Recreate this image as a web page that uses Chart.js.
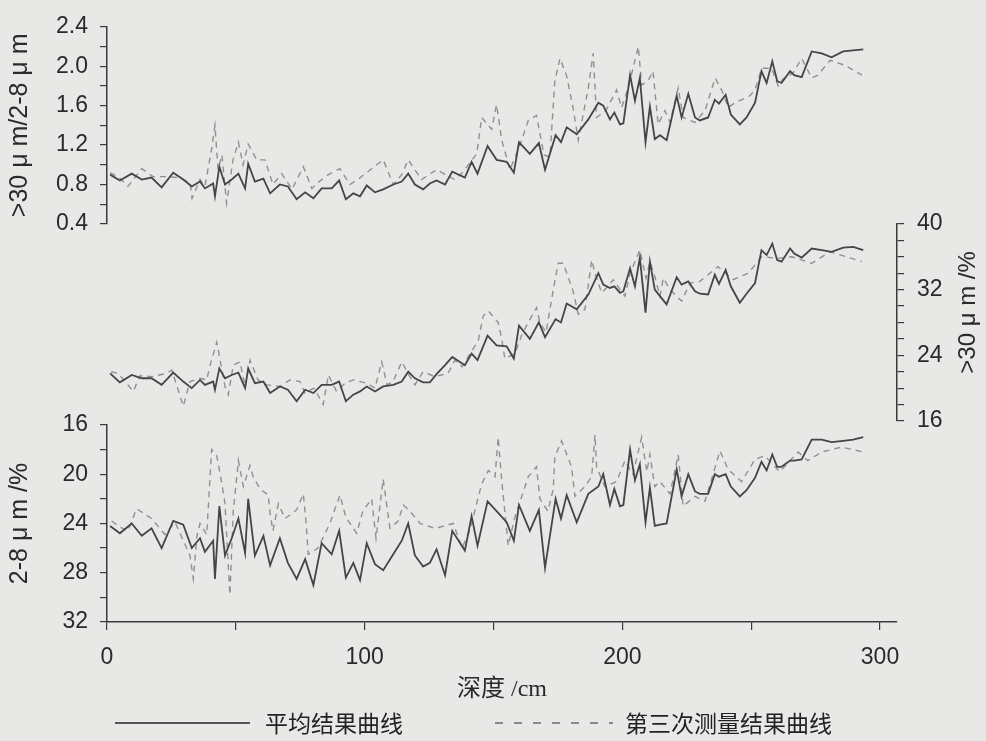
<!DOCTYPE html>
<html>
<head>
<meta charset="utf-8">
<script src="https://cdn.jsdelivr.net/npm/chart.js@4.4.0/dist/chart.umd.min.js"></script>
<style>
  html, body { margin: 0; padding: 0; background: #e8e8e6; }
  .wrap { position: relative; width: 986px; height: 741px; overflow: hidden; }
  canvas { position: absolute; left: 0; top: 0; }
  .legend i { position: absolute; top: 722px; height: 2px; }
  .legend .solid { left: 115px; width: 135px; background: #555; }
  .legend .dash { left: 495px; width: 118px; background: repeating-linear-gradient(90deg, #8a8a8a 0 8px, transparent 8px 19px); }
  .legend span { position: absolute; top: 705px; line-height: 32px; font: 23px 'Noto Sans CJK SC', sans-serif; color: #222; }
</style>
</head>
<body>
<div class="wrap">
  <canvas id="chart" width="986" height="741"></canvas>
  <div class="legend">
    <i class="solid"></i><span style="left:265px">平均结果曲线</span>
    <i class="dash"></i><span style="left:625px">第三次测量结果曲线</span>
  </div>
</div>
<script>
// depth (cm) of the averaged samples, shared by the three solid curves
const depth = [1.2, 5.0, 9.6, 13.5, 17.3, 21.2, 25.7, 29.6, 32.9, 36.1,
  38.0, 41.2, 41.9, 43.6, 45.8, 48.4, 51.0, 53.6, 54.8, 57.4,
  60.7, 63.3, 67.1, 70.2, 73.6, 76.9, 80.1, 83.3, 87.2, 90.1,
  92.7, 95.6, 98.2, 100.8, 104.0, 107.2, 111.1, 114.4, 116.9, 119.5,
  122.7, 125.3, 127.9, 131.2, 134.0, 138.9, 141.5, 143.8, 147.7, 151.2,
  155.1, 157.9, 159.9, 164.1, 167.6, 170.0, 174.1, 176.2, 178.4, 182.3,
  186.8, 190.7, 192.6, 195.2, 196.9, 199.1, 200.4, 203.0, 204.9, 206.8,
  209.0, 210.7, 212.6, 214.6, 217.2, 221.1, 223.0, 225.6, 228.2, 230.1,
  233.3, 235.9, 237.5, 240.1, 242.1, 245.6, 248.2, 251.5, 254.0, 256.0,
  258.2, 260.1, 261.8, 265.1, 266.7, 269.6, 273.5, 277.4, 281.2, 285.7,
  289.6, 293.5]

// >30um / 2-8um ratio, averaged
const ratioMean = [0.90, 0.84, 0.91, 0.85, 0.87, 0.77, 0.92, 0.85, 0.78, 0.83,
  0.76, 0.81, 0.68, 0.98, 0.80, 0.85, 0.91, 0.76, 1.01, 0.83,
  0.86, 0.71, 0.80, 0.78, 0.65, 0.72, 0.66, 0.76, 0.76, 0.84,
  0.65, 0.71, 0.68, 0.79, 0.72, 0.75, 0.80, 0.83, 0.91, 0.80,
  0.75, 0.81, 0.84, 0.80, 0.93, 0.87, 1.03, 0.91, 1.19, 1.05,
  1.03, 0.92, 1.23, 1.11, 1.22, 0.95, 1.30, 1.23, 1.38, 1.31,
  1.46, 1.63, 1.60, 1.46, 1.53, 1.41, 1.42, 1.91, 1.65, 1.88,
  1.23, 1.59, 1.26, 1.30, 1.25, 1.70, 1.48, 1.72, 1.48, 1.45,
  1.48, 1.66, 1.62, 1.71, 1.51, 1.41, 1.48, 1.63, 1.95, 1.83,
  2.05, 1.85, 1.83, 1.95, 1.91, 1.89, 2.15, 2.13, 2.09, 2.15,
  2.16, 2.17]

// >30um content (%), averaged
const coarseMean = [21.8, 20.7, 21.6, 21.2, 21.2, 20.4, 21.9, 20.8, 20.0, 21.0,
  20.4, 20.8, 19.8, 22.4, 21.2, 21.6, 21.9, 20.0, 22.4, 20.6,
  20.8, 19.4, 20.2, 19.8, 18.4, 19.8, 19.4, 20.4, 20.4, 20.8,
  18.4, 19.2, 19.6, 20.2, 19.6, 20.2, 20.4, 20.8, 22.0, 21.2,
  20.7, 20.7, 21.7, 22.8, 23.8, 22.8, 24.2, 23.4, 26.4, 25.2,
  25.1, 23.6, 27.6, 26.0, 28.0, 26.2, 28.4, 28.0, 30.3, 29.6,
  31.4, 34.0, 32.6, 32.2, 32.4, 31.6, 31.8, 34.6, 32.4, 35.9,
  29.2, 35.4, 32.0, 31.2, 30.2, 33.5, 32.6, 33.0, 31.8, 31.5,
  31.4, 33.8, 32.7, 34.4, 32.4, 30.4, 31.5, 32.8, 36.8, 36.2,
  37.6, 35.6, 35.4, 37.0, 36.4, 35.9, 37.0, 36.8, 36.6, 37.1,
  37.2, 36.8]

// 2-8um content (%), averaged
const fineMean = [24.2, 24.8, 24.0, 25.0, 24.4, 26.0, 23.8, 24.1, 26.0, 25.2,
  26.3, 25.4, 28.5, 22.6, 26.6, 25.2, 23.6, 26.4, 22.0, 26.6,
  25.0, 27.4, 25.2, 27.2, 28.5, 26.9, 29.0, 25.6, 26.5, 24.6,
  28.4, 27.2, 28.6, 25.6, 27.3, 27.8, 26.5, 25.4, 24.0, 26.6,
  27.5, 27.2, 26.1, 28.2, 24.6, 26.2, 23.4, 25.8, 22.2, 23.0,
  23.9, 25.4, 22.5, 24.6, 22.9, 27.6, 22.0, 23.6, 21.7, 23.9,
  21.6, 21.0, 20.0, 22.5, 21.2, 22.6, 22.5, 18.0, 20.5, 19.2,
  23.9, 21.1, 24.2, 24.1, 24.0, 19.6, 21.8, 20.0, 21.4, 21.6,
  21.6, 20.0, 20.2, 20.0, 21.0, 21.8, 21.3, 20.3, 19.0, 19.7,
  18.4, 19.4, 19.4, 18.9, 18.9, 18.8, 17.2, 17.2, 17.4, 17.3,
  17.2, 17.0]

// third measurement
const depthRatio3 = [1.2, 4.3, 8.1, 13.5, 17.9, 23.2, 27.6, 32.2, 33.0, 36.1,
  38.0, 40.6, 41.9, 43.1, 44.6, 46.4, 48.9, 51.0, 52.8, 54.8,
  58.1, 61.3, 64.4, 67.8, 71.8, 76.2, 79.5, 81.9, 85.9, 90.4,
  94.3, 97.8, 102.7, 107.2, 111.1, 114.4, 116.9, 122.1, 127.9, 135.0,
  137.6, 143.5, 145.4, 149.3, 151.2, 153.2, 156.4, 160.3, 163.5, 166.7,
  169.6, 171.9, 173.8, 175.8, 178.4, 181.0, 182.9, 186.8, 188.7, 190.0,
  193.6, 197.8, 199.7, 202.3, 206.2, 207.5, 210.0, 211.9, 213.9, 216.5,
  218.5, 221.7, 223.6, 228.2, 232.1, 236.0, 238.7, 241.1, 243.7, 249.5,
  251.5, 254.1, 257.9, 260.5, 262.3, 266.2, 269.6, 273.5, 275.9, 280.6,
  286.3, 293.0]
const ratio3 = [0.92, 0.88, 0.78, 0.96, 0.88, 0.88, 0.87, 0.82, 0.66, 0.85,
  0.78, 1.16, 1.40, 0.95, 1.10, 0.61, 1.05, 1.23, 1.00, 1.21,
  1.05, 1.05, 0.80, 0.91, 0.75, 0.98, 0.76, 0.82, 0.90, 0.96,
  0.80, 0.86, 0.96, 1.05, 0.80, 0.90, 1.05, 0.85, 0.95, 0.85,
  0.91, 1.11, 1.48, 1.36, 1.61, 1.25, 0.95, 1.20, 1.45, 1.50,
  1.10, 1.08, 1.85, 2.08, 1.90, 1.56, 1.25, 1.78, 2.13, 1.48,
  1.55, 1.76, 1.58, 1.78, 2.20, 1.81, 1.85, 1.95, 1.41, 1.55,
  1.43, 1.78, 1.48, 1.43, 1.55, 1.88, 1.75, 1.58, 1.63, 1.70,
  1.76, 1.98, 1.98, 1.80, 1.87, 1.93, 2.08, 1.88, 1.91, 2.06,
  2.01, 1.91]

const depthCoarse3 = [1.6, 4.3, 7.6, 10.2, 12.8, 17.5, 23.2, 25.2, 29.6, 32.2,
  36.1, 38.7, 40.0, 42.6, 43.8, 45.8, 47.1, 49.0, 51.6, 53.6,
  55.5, 58.6, 62.0, 67.1, 71.0, 74.9, 76.8, 80.3, 83.9, 85.9,
  89.1, 92.4, 95.6, 100.8, 104.0, 106.6, 108.7, 111.0, 114.4, 116.8,
  119.5, 122.7, 127.3, 132.4, 135.0, 137.8, 140.9, 144.1, 146.0, 148.0,
  151.8, 153.2, 154.4, 158.3, 161.0, 163.5, 166.7, 168.0, 170.4, 173.2,
  175.1, 177.1, 180.9, 182.9, 185.5, 188.1, 189.4, 192.0, 194.4, 196.5,
  199.1, 201.0, 203.0, 206.8, 209.2, 210.7, 212.6, 214.6, 215.9, 218.5,
  223.0, 226.3, 230.1, 237.1, 243.0, 248.9, 254.1, 260.4, 265.8, 273.5,
  280.6, 289.0, 292.9]
const coarse3 = [22.0, 21.8, 20.6, 19.6, 21.5, 21.4, 21.8, 22.2, 17.8, 20.8,
  21.2, 21.0, 22.8, 25.6, 23.6, 20.2, 19.2, 22.8, 23.2, 20.2,
  23.4, 21.0, 20.4, 20.2, 21.0, 20.8, 19.4, 20.0, 18.0, 21.6,
  19.6, 20.6, 21.0, 20.6, 20.0, 23.2, 20.4, 20.8, 23.2, 21.8,
  20.4, 22.0, 21.4, 21.8, 23.4, 22.6, 24.2, 25.8, 28.8, 29.4,
  28.0, 26.0, 23.6, 24.2, 26.5, 28.0, 29.8, 28.0, 26.8, 32.0,
  35.2, 35.2, 31.8, 29.0, 29.6, 35.6, 34.0, 31.6, 32.4, 33.2,
  32.0, 31.2, 34.0, 36.8, 33.4, 35.4, 33.6, 31.2, 33.4, 32.0,
  30.6, 32.8, 33.0, 34.8, 33.2, 34.0, 36.0, 35.8, 36.0, 35.2,
  36.6, 35.8, 35.4]

const depthFine3 = [1.8, 5.0, 8.1, 11.5, 17.3, 22.5, 26.4, 32.2, 33.5, 34.9,
  36.1, 38.7, 40.6, 42.6, 44.6, 45.8, 47.7, 49.0, 51.0, 52.9,
  55.5, 56.7, 59.4, 62.6, 63.3, 64.4, 66.5, 69.1, 73.6, 76.2,
  77.2, 78.1, 81.9, 86.5, 90.4, 92.7, 96.9, 99.3, 102.7, 104.4,
  107.2, 109.8, 113.0, 115.0, 117.6, 121.5, 127.3, 134.4, 137.8, 140.9,
  145.4, 148.0, 150.6, 151.8, 153.2, 155.7, 158.3, 163.5, 166.7, 168.0,
  171.1, 173.2, 173.8, 176.4, 180.3, 181.6, 185.5, 188.1, 189.4, 190.0,
  193.2, 197.8, 201.0, 204.1, 207.5, 209.5, 210.7, 212.6, 214.6, 218.5,
  221.7, 223.6, 228.2, 232.1, 237.9, 241.0, 246.3, 251.5, 255.3, 261.1,
  268.2, 272.0, 277.3, 285.1, 293.5]
const fine3 = [23.8, 24.3, 24.6, 22.8, 23.6, 24.9, 23.9, 26.6, 28.5, 25.0,
  24.0, 24.9, 18.0, 18.5, 20.8, 22.4, 29.8, 23.0, 18.9, 21.0,
  19.3, 20.2, 21.2, 21.7, 23.2, 24.6, 22.4, 23.6, 22.9, 21.6,
  23.8, 26.5, 26.0, 24.0, 21.7, 23.5, 24.8, 23.0, 22.0, 25.2,
  20.4, 24.4, 23.8, 22.5, 23.0, 24.0, 24.4, 24.0, 26.0, 24.5,
  20.8, 19.7, 20.2, 17.0, 20.5, 25.8, 23.5, 20.2, 19.4, 22.0,
  23.0, 21.2, 18.6, 17.3, 19.4, 21.8, 21.0, 20.2, 16.8, 19.4,
  21.0, 20.6, 18.9, 20.0, 17.0, 19.8, 18.4, 21.0, 20.6, 21.6,
  18.4, 22.6, 21.8, 22.2, 18.1, 19.6, 20.6, 18.8, 18.5, 19.8,
  18.2, 18.9, 18.2, 17.8, 18.2]

// tick labels
const xTicks = [0, 50, 100, 150, 200, 250, 300]
const xLabels = [0, 100, 200, 300]
const ratioLabels = [0.4, 0.8, 1.2, 1.6, 2.0, 2.4]
const coarseLabels = [16, 24, 32, 40]
const fineLabels = [16, 20, 24, 28, 32]

const ink = '#2a2a2a'
const axisInk = '#3a3a3a'
const solidInk = '#454545'
const dashInk = '#909090'
const latin = "'Liberation Sans', Arial, sans-serif"
const tickFont = { family: latin, size: 23 }
const titleFont = { family: latin, size: 25 }

const pairs = (xs, ys) => xs.map((x, i) => ({ x, y: ys[i] }))
const hasLabel = (list, v) => list.some(l => Math.abs(l - v) < 1e-6)

function solid (data, yAxisID) {
  return { data, yAxisID, borderColor: solidInk, borderWidth: 1.8, pointRadius: 0, tension: 0 }
}
function dashed (data, yAxisID) {
  return { data, yAxisID, borderColor: dashInk, borderWidth: 1.4, borderDash: [6, 5], pointRadius: 0, tension: 0 }
}

// a visible axis with tick marks outside and labels only on the listed values
function valueAxis (position, weight, stackWeight, min, max, step, labels, fmt, width) {
  return {
    type: 'linear',
    position,
    stack: position,
    weight,
    stackWeight,
    min,
    max,
    ticks: {
      stepSize: step,
      autoSkip: false,
      font: tickFont,
      color: ink,
      padding: 12,
      callback: v => hasLabel(labels, v) ? fmt(v) : ''
    },
    grid: { drawOnChartArea: false, tickLength: 7, color: axisInk, lineWidth: 1.2 },
    border: { color: axisInk, width: 1.5 },
    afterFit: s => { s.width = width }
  }
}

// an empty slot in a stack, so the visible axes leave the right gaps
function gapAxis (position, weight, stackWeight) {
  return {
    type: 'linear',
    position,
    stack: position,
    weight,
    stackWeight,
    min: 0,
    max: 1,
    ticks: { display: false },
    grid: { display: false },
    border: { display: false },
    afterFit: s => { s.width = 0 }
  }
}

const yTop = valueAxis('left', 3, 200, 0.4, 2.4, 0.2, ratioLabels, v => v.toFixed(1), 107)
yTop.title = { display: true, text: '>30 μ m/2-8 μ m', font: titleFont, color: ink, padding: { top: 5, bottom: 0 } }

const yBot = valueAxis('left', 1, 200, 16, 32, 2, fineLabels, v => String(v), 107)
yBot.reverse = true
yBot.title = { display: true, text: '2-8 μ m /%', font: titleFont, color: ink, padding: { top: 5, bottom: 0 } }

const yMid = valueAxis('right', 2, 200, 16, 40, 2, coarseLabels, v => String(v), 89)
yMid.ticks.padding = 13

// right axis title reads bottom to top in the original
const rightTitle = {
  id: 'rightTitle',
  afterDraw (chart) {
    const s = chart.scales.yMid
    const ctx = chart.ctx
    ctx.save()
    ctx.translate(s.right - 18, (s.top + s.bottom) / 2 - 10)
    ctx.rotate(-Math.PI / 2)
    ctx.font = "24px 'Liberation Sans', Arial, sans-serif"
    ctx.fillStyle = ink
    ctx.textAlign = 'center'
    ctx.textBaseline = 'middle'
    ctx.fillText('>30 μ m /%', 0, 0)
    ctx.restore()
  }
}

new Chart(document.getElementById('chart'), {
  type: 'line',
  data: {
    datasets: [
      solid(pairs(depth, ratioMean), 'yTop'),
      solid(pairs(depth, coarseMean), 'yMid'),
      solid(pairs(depth, fineMean), 'yBot'),
      dashed(pairs(depthRatio3, ratio3), 'yTop'),
      dashed(pairs(depthCoarse3, coarse3), 'yMid'),
      dashed(pairs(depthFine3, fine3), 'yBot')
    ]
  },
  options: {
    responsive: false,
    animation: false,
    devicePixelRatio: 1,
    layout: { padding: { top: 18, left: 0, right: 0, bottom: 31 } },
    plugins: { legend: { display: false }, tooltip: { enabled: false } },
    scales: {
      x: {
        type: 'linear',
        position: 'bottom',
        min: 0,
        max: 306.6,
        afterBuildTicks: s => { s.ticks = xTicks.map(v => ({ value: v })) },
        ticks: {
          autoSkip: false,
          maxRotation: 0,
          font: tickFont,
          color: ink,
          padding: 14,
          callback: v => xLabels.includes(v) ? String(v) : ''
        },
        grid: { drawOnChartArea: false, tickLength: 8, color: axisInk, lineWidth: 1.2 },
        border: { color: axisInk, width: 1.5 },
        title: {
          display: true,
          text: '深度 /cm',
          font: { family: "'Liberation Serif', 'Noto Sans CJK SC', serif", size: 24 },
          color: ink,
          padding: { top: 0, bottom: 6 }
        },
        afterFit: s => { s.height = 88 }
      },
      yTop,
      yGapL: gapAxis('left', 2, 204),
      yBot,
      yGapR1: gapAxis('right', 1, 200),
      yMid,
      yGapR2: gapAxis('right', 3, 204)
    }
  },
  plugins: [rightTitle]
})
</script>
</body>
</html>
